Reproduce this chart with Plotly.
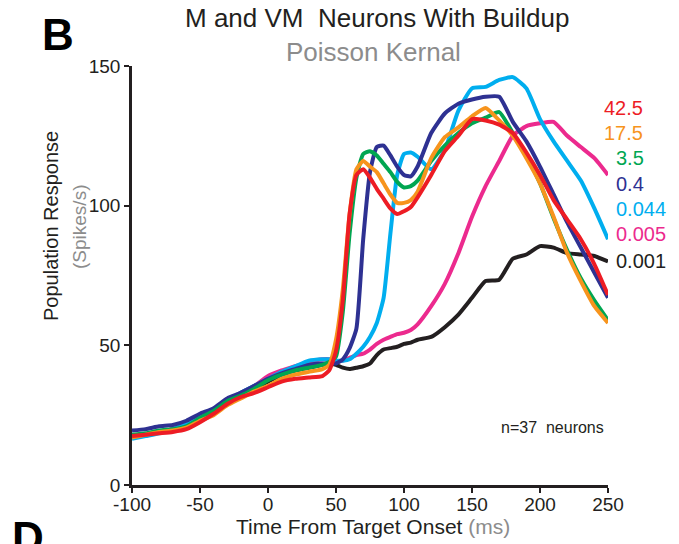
import plotly.graph_objects as go

# ---------------- data ----------------
time_ms = [-100, -90, -80, -70, -60, -50, -40, -30, -20, -10, 0, 10, 20, 30, 40,
           45, 50, 55, 60, 65, 70, 75, 80, 85, 90, 95, 100, 105, 110,
           120, 130, 140, 150, 160, 170, 180, 190, 200, 210, 220, 230, 240, 250]

kernel_labels = ["0.001", "0.005", "0.044", "0.4", "3.5", "17.5", "42.5"]

resp_0_001 = [17.5, 18, 19, 20, 20.5, 23, 25.5, 29.5, 32.5, 34.5, 37, 39.5, 41, 42, 43,
              43.5, 43, 42, 41.5, 42, 42.5, 43.5, 46.5, 48.5, 49, 49.5, 50.5, 51, 52,
              53, 56.5, 61, 67, 73, 73.5, 81, 82.5, 85.5, 85, 83, 82.5, 82, 80]

resp_0_005 = [17, 18, 19, 20, 21.5, 24, 26.5, 30, 33, 35.5, 39, 41, 42.5, 44, 45,
              45, 44, 44.5, 45.5, 46.5, 47, 48.5, 50.5, 52, 53, 54, 54.5, 55.5, 57.5,
              64, 72, 83, 96, 107, 116, 125, 128.5, 129.5, 130, 125, 121, 117, 111]

resp_0_044 = [16.5, 17.5, 18.5, 20, 22, 25, 27, 30, 33, 35.5, 38, 40.5, 42.5, 44.5, 45,
              45, 44.5, 44.5, 45, 47, 49.5, 53, 58, 67, 90, 111, 118.5, 119, 117.5,
              113, 120, 134, 142, 142.5, 145, 146, 142, 131, 123, 116, 109, 99, 88]

resp_0_4 = [19.5, 20, 21, 21.5, 23, 25.5, 27.5, 31, 33, 35.5, 38, 40, 41.5, 43, 43.5,
            43.5, 43.5, 45, 49, 56, 88, 112, 121, 121.5, 118, 114, 111, 110.5, 114,
            126, 133, 136.5, 138, 139, 139, 130, 123, 114, 104, 94, 85, 76, 67]

resp_3_5 = [18, 18.5, 19.5, 20, 21, 24, 26.5, 30, 32, 34.5, 37.5, 39.5, 41, 42, 43,
            44, 46, 62, 90, 110, 118.5, 119.5, 118, 115, 112, 108.5, 106.5, 107, 109,
            116, 121.5, 126, 129.5, 131.5, 133.5, 126, 118, 108, 95.5, 84, 74, 66, 59]

resp_17_5 = [17, 18, 19, 19.5, 20.5, 23, 25, 28.5, 31, 33.5, 35.5, 38, 39.5, 40.5, 41.5,
             43, 52, 70, 97, 113, 116, 114, 112, 108, 104, 101, 101, 102, 105,
             117, 124.5, 128, 132, 135, 130.5, 125, 117, 108, 96, 83, 73, 64, 58]

resp_42_5 = [17.5, 18, 18.5, 19, 20, 22.5, 25.5, 29, 31.5, 33, 35, 37, 38, 38.5, 39,
             41, 48, 66, 97, 111, 113, 110, 106, 102.5, 99, 97, 98, 99.5, 103,
             111, 119.5, 125, 131, 130.5, 129, 126, 119, 111, 102, 95, 88, 79, 68]

series_values = [resp_0_001, resp_0_005, resp_0_044, resp_0_4, resp_3_5, resp_17_5, resp_42_5]
series_colors = ["#231F20", "#EC2A8E", "#00AEEF", "#2E3192", "#00A651", "#F7941D", "#ED1C24"]

x_ticks = [-100, -50, 0, 50, 100, 150, 200, 250]
y_ticks = [0, 50, 100, 150]

# ---------------- layout geometry ----------------
W, H = 679, 544
L, R, T, B = 132, 71, 66, 59
PW, PH = W - L - R, H - T - B

def pap(px, py):
    return (px - L) / PW, (H - B - py) / PH

FONT = "Liberation Sans, Arial, Helvetica, sans-serif"

fig = go.Figure()
for name, vals, col in zip(kernel_labels, series_values, series_colors):
    fig.add_trace(go.Scatter(x=time_ms, y=vals, mode="lines", name=name,
                             line=dict(color=col, width=4, shape="spline", smoothing=0.5),
                             showlegend=False))

annotations = []

def add_text(px, py, text, size, color="#231F20", xanchor="center", yanchor="middle",
             bold=False, angle=0):
    xp, yp = pap(px, py)
    annotations.append(dict(x=xp, y=yp, xref="paper", yref="paper", text=text,
                            showarrow=False, xanchor=xanchor, yanchor=yanchor,
                            textangle=angle,
                            font=dict(family=FONT, size=size, color=color,
                                      weight="bold" if bold else "normal")))

add_text(377, 18, "M and VM  Neurons With Buildup", 26)
add_text(373, 52, "Poisson Kernal", 26, color="#8C8C8C")
add_text(58, 35, "B", 44, bold=True, color="#000000")
add_text(28, 511, "D", 44, bold=True, color="#000000", yanchor="top")

# right-hand kernel labels
label_pos = {"42.5": (602, 108), "17.5": (602, 133), "3.5": (614, 158), "0.4": (614, 184),
             "0.044": (614, 209), "0.005": (614, 234), "0.001": (614, 261)}
for name, col in zip(kernel_labels, series_colors):
    px, py = label_pos[name]
    add_text(px, py, name, 20, color=col, xanchor="left")

add_text(552, 427, "n=37  neurons", 16)

# axis titles (black + gray parts)
add_text(51, 226, "Population Response", 20, angle=-90)
add_text(79, 227, "(Spikes/s)", 19, color="#8C8C8C", angle=-90)
add_text(373, 526, "Time From Target Onset <span style='color:#8C8C8C'>(ms)</span>", 21)

axis_common = dict(showgrid=False, zeroline=False, showline=True, linecolor="#231F20",
                   linewidth=2.5, ticks="outside", ticklen=5, tickwidth=2,
                   tickcolor="#231F20",
                   tickfont=dict(family=FONT, size=19, color="#231F20"))

fig.update_layout(
    width=W, height=H,
    margin=dict(l=L, r=R, t=T, b=B, pad=0),
    paper_bgcolor="white", plot_bgcolor="white",
    xaxis=dict(range=[-100, 250], tickvals=x_ticks, ticktext=[str(v) for v in x_ticks],
               ticklabelstandoff=-5, **axis_common),
    yaxis=dict(range=[0, 150], tickvals=y_ticks, ticktext=[str(v) for v in y_ticks],
               **axis_common),
    annotations=annotations,
)

fig.write_html("out.html")
